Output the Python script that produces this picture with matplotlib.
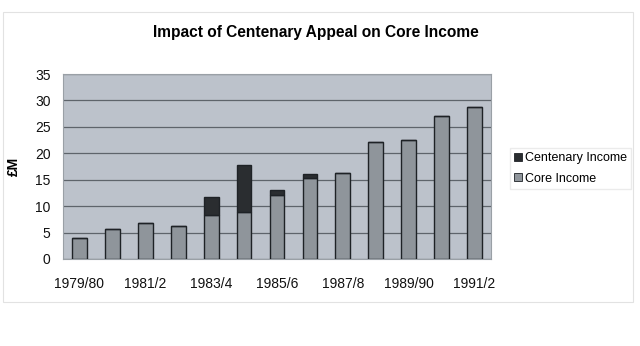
import matplotlib.pyplot as plt
import numpy as np
from matplotlib.patches import Rectangle

years = ['1979/80', '1980/1', '1981/2', '1982/3', '1983/4', '1984/5', '1985/6',
         '1986/7', '1987/8', '1988/9', '1989/90', '1990/1', '1991/2']
core = [4.0, 5.6, 6.9, 6.3, 8.4, 8.9, 12.2, 15.3, 16.3, 22.2, 22.5, 27.0, 28.8]
centenary = [0, 0, 0, 0, 3.4, 8.8, 0.9, 0.8, 0, 0, 0, 0, 0]

plt.rcParams['font.family'] = ['Liberation Sans', 'DejaVu Sans']

fig = plt.figure(figsize=(6.4, 3.46), dpi=100)
fig.patch.set_facecolor('white')
# faint chart frame
fig.patches.append(Rectangle((3 / 640, 1 - 302 / 346), 630 / 640, 290 / 346,
                             transform=fig.transFigure, fill=False,
                             edgecolor='#e2e2e2', lw=0.8))

ax = fig.add_axes([63 / 640, 87 / 346, 428 / 640, 185 / 346])
ax.set_facecolor('#bcc2cb')

x = np.arange(len(years))
ax.bar(x, core, width=0.45, color='#8f959b', edgecolor='#1e2226', lw=1.0,
       label='Core Income', zorder=3)
ax.bar(x, centenary, width=0.45, bottom=core, color='#2a2d30',
       edgecolor='#1e2226', lw=1.0, label='Centenary Income', zorder=3)

ax.set_xlim(-0.5, len(years) - 0.5)
ax.set_ylim(0, 35)
ax.set_yticks(range(0, 36, 5))
ax.yaxis.grid(True, color='#5e646b', lw=0.9, zorder=1)
ax.set_xticks(x[::2])
ax.set_xticklabels(years[::2])
ax.tick_params(length=0, labelsize=10, colors='#111111')
ax.tick_params(axis='x', pad=13)
ax.tick_params(axis='y', pad=9)
for s in ax.spines.values():
    s.set_color('#9aa0a6')
    s.set_linewidth(0.8)

ax.set_ylabel('£M', fontsize=10, fontweight='bold', labelpad=10)
fig.text(316 / 640, 1 - 32 / 346, 'Impact of Centenary Appeal on Core Income',
         ha='center', va='center', fontsize=11.2, fontweight='bold')

h, l = ax.get_legend_handles_labels()
leg = ax.legend(h[::-1], l[::-1], loc='center left', bbox_to_anchor=(1.044, 0.49),
                fontsize=9, frameon=True, fancybox=False, edgecolor='#e6e6e6',
                handlelength=0.6, handleheight=0.6, handletextpad=0.25,
                borderpad=0.35, borderaxespad=0, labelspacing=0.7)
for p in leg.get_patches():
    p.set_linewidth(0.6)

fig.savefig('out.png', dpi=100)
